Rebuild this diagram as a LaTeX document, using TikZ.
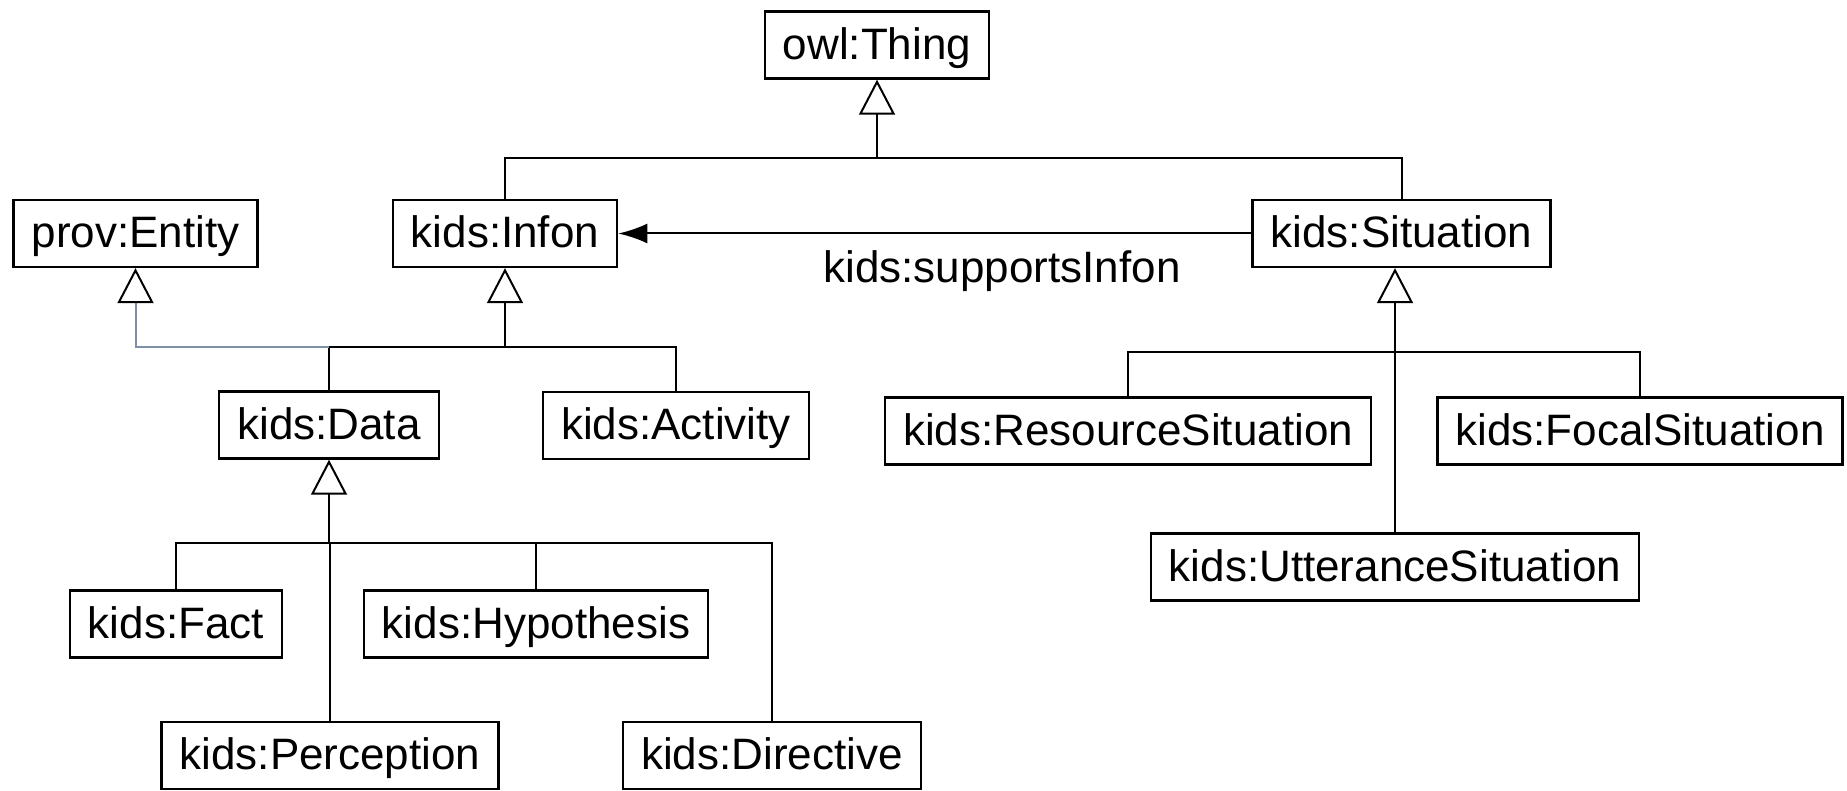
\documentclass[tikz,border=0pt]{standalone}
\usepackage{fontspec}
\setmainfont{Liberation Sans}
\usetikzlibrary{arrows.meta}
\definecolor{bluegray}{HTML}{7F8FA8}
\begin{document}
\begin{tikzpicture}[x=0.5pt,y=-0.5pt,
  cls/.style={draw, line width=1.2pt, minimum height=33.5pt, inner xsep=9pt, inner ysep=0pt,
              font=\fontsize{22}{26}\selectfont, text height=15.4pt, text depth=1.1pt},
  lbl/.style={inner sep=0pt, font=\fontsize{22}{26}\selectfont, text height=15.4pt, text depth=1.1pt},
  conn/.style={line width=1pt},
  gen/.style={conn, -{Triangle[open, length=17.5pt, width=18pt, color=black]}},
  assoc/.style={conn, -{Latex[length=14.5pt, width=10pt]}}]
\useasboundingbox (0,0) rectangle (1847,791);

\node[cls] (thing) at (877,45) {owl:Thing};
\node[cls] (entity) at (135.5,233.5) {prov:Entity};
\node[cls] (infon) at (505,233.5) {kids:Infon};
\node[cls] (situation) at (1401.5,233.5) {kids:Situation};
\node[cls] (data) at (329,425) {kids:Data};
\node[cls] (activity) at (676,425.5) {kids:Activity};
\node[cls] (resource) at (1128,431) {kids:ResourceSituation};
\node[cls] (focal) at (1640,431) {kids:FocalSituation};
\node[cls] (utter) at (1395,567) {kids:UtteranceSituation};
\node[cls] (fact) at (176,624) {kids:Fact};
\node[cls] (hyp) at (536,624) {kids:Hypothesis};
\node[cls] (perc) at (330,755.5) {kids:Perception};
\node[cls] (dir) at (772,755.5) {kids:Directive};
\node[lbl] (suplbl) at (1002,268) {kids:supportsInfon};

% owl:Thing generalization
\coordinate (jt) at (877,158);
\draw[conn] (infon.north) |- (jt) -| (situation.north);
\draw[gen] (jt) -- (thing);

% kids:Infon generalization
\coordinate (ji) at (505,347);
\draw[conn] (data.north) |- (ji) -| (activity.north);
\draw[gen] (ji) -- (infon);
\draw[gen, draw=bluegray] (data.north |- ji) -| (entity.south);

% kids:Data generalization
\coordinate (jd) at (329,543);
\draw[conn] (fact.north) |- (jd) -| (dir.north);
\draw[conn] (jd) -| (hyp.north);
\draw[conn] (perc.north) -- (perc.north |- jd);
\draw[gen] (jd) -- (data);

% kids:Situation generalization
\coordinate (js) at (1395,352);
\draw[conn] (resource.north) |- (js) -| (focal.north);
\draw[gen] (utter.north) -- (utter.north |- situation.south);

% association
\draw[assoc] (situation) -- (infon);
\end{tikzpicture}
\end{document}
